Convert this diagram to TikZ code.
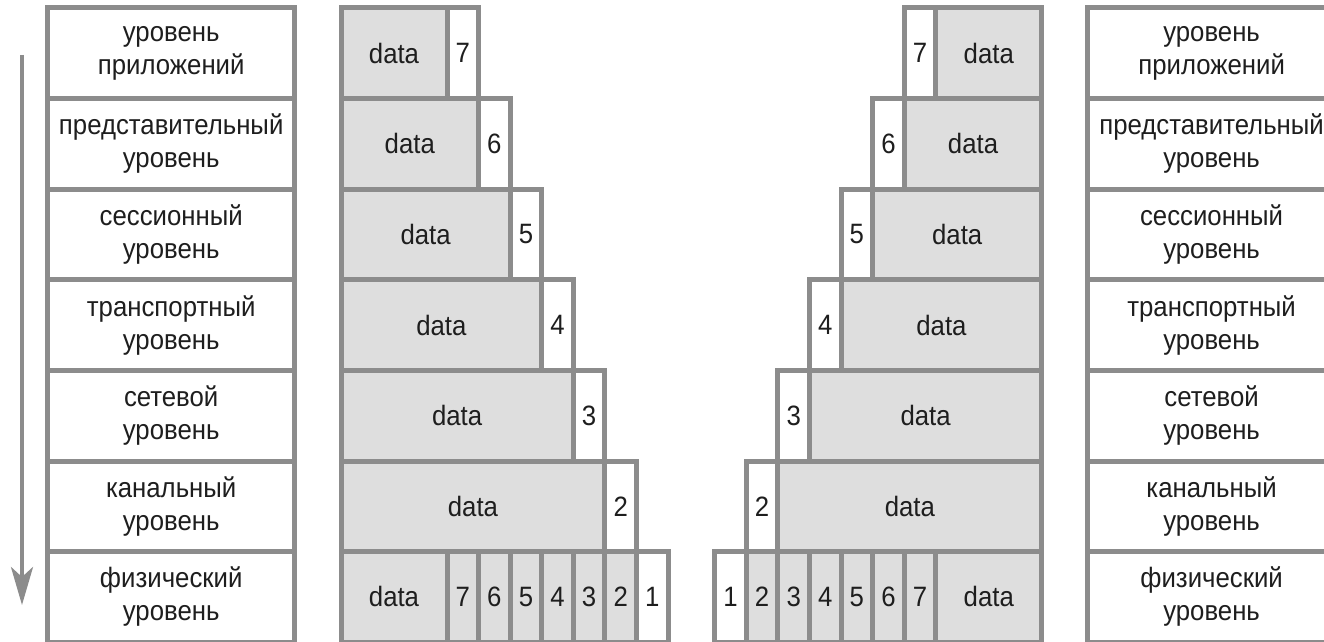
\documentclass[tikz,border=0pt]{standalone}
\usepackage{fontspec}
\usepackage{xcolor}
\usepackage{tikz}
\usetikzlibrary{positioning,arrows.meta}

\newfontfamily\lblfont[FakeStretch=0.92]{Liberation Sans}
\definecolor{frame}{RGB}{140,140,140}
\definecolor{paygray}{RGB}{222,222,222}
\definecolor{ink}{RGB}{30,30,30}

\tikzset{
  cell/.style={draw=frame, line width=2.5pt, inner sep=0pt, minimum height=45.3pt,
    text=ink, font=\lblfont\fontsize{14}{16.5}\selectfont},
  hdr/.style={cell, fill=white, minimum width=15.79pt},
  pay/.style={cell, fill=paygray},
  lvl/.style={cell, fill=white, minimum width=123.75pt, align=center},
  flow/.style={draw=frame, line width=2pt, -{Stealth[length=19pt,width=11pt,inset=5pt]}}
}

\begin{document}
\begin{tikzpicture}[x=1pt,y=-1pt]
	\useasboundingbox (0,0) rectangle (662,321);
	\clip (0,0) rectangle (662,321);
	\def\rh{45.3}   % высота строки
	\def\yo{4}      % верх
	\def\hw{15.79}  % ширина заголовка
	\def\xd{170.5}  % левый край data
	\def\xh{223.5}  % первый заголовок
	
	% левая и правая стороны (правая -- зеркально)
	\foreach \s/\sx/\sh in {L/1/0, R/-1/691.4} {
		\begin{scope}[xshift=\sh pt, xscale=\sx]
			% уровни модели
			\foreach \t [count=\i from 0] in {{уровень\\приложений},{представительный\\уровень},
				{сессионный\\уровень},{транспортный\\уровень},{сетевой\\уровень},
				{канальный\\уровень},{физический\\уровень}} {
				\node[lvl] (lvl\s\i) at (85.6,\yo+\rh*\i+\rh/2) {\t};
			}
			
			% пакеты с заголовками 7..2
			\foreach \k in {0,...,5} {
				\pgfmathsetmacro\xr{\xh+\hw*\k}
				\pgfmathsetmacro\dw{\xr-\xd}
				\pgfmathtruncatemacro\lab{7-\k}
				\node[pay, minimum width=\dw pt] (dat\s\k) at ({(\xd+\xr)/2},\yo+\rh*\k+\rh/2) {data};
				\node[hdr] (hd\s\k) at (\xr+\hw/2,\yo+\rh*\k+\rh/2) {\lab};
			}
			
			% физический уровень: все заголовки
			\node[pay, minimum width=53pt] (dat\s6) at ({(\xd+\xh)/2},\yo+\rh*6.5) {data};
			\foreach \j in {0,...,6} {
				\pgfmathtruncatemacro\lab{7-\j}
				\ifnum\j=6
					\node[hdr] (bit\s\j) at (\xh+\hw*\j+\hw/2,\yo+\rh*6.5) {\lab};
				\else
					\node[hdr, fill=paygray] (bit\s\j) at (\xh+\hw*\j+\hw/2,\yo+\rh*6.5) {\lab};
				\fi
			}
		\end{scope}
	}
	
	% стрелка вниз
	\coordinate (arrtop) at (11,27.5);
	\coordinate (arrbot) at (11,302.5);
	\draw[flow] (arrtop) -- (arrbot);
\end{tikzpicture}
\end{document}
